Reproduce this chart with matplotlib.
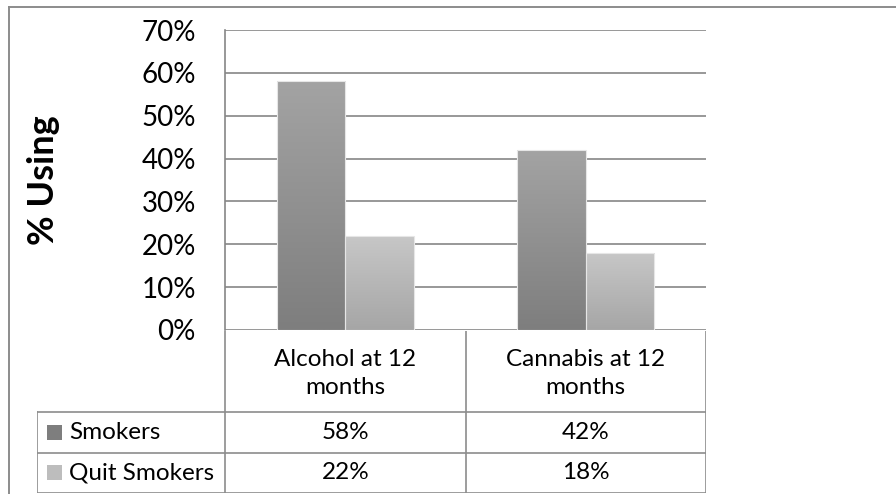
import numpy as np
import matplotlib.pyplot as plt
from matplotlib.colors import LinearSegmentedColormap

categories = ['Alcohol at 12\nmonths', 'Cannabis at 12\nmonths']
series = ['Smokers', 'Quit Smokers']
smokers = [58, 42]
quit_smokers = [22, 18]
yticks = [0, 10, 20, 30, 40, 50, 60, 70]

plt.rcParams['font.family'] = ['Lato', 'DejaVu Sans']

W, H = 896, 494
fig = plt.figure(figsize=(W / 100, H / 100), dpi=100)


def px_axes(x0, y0, x1, y1):
    # pixel box (top-left origin) -> figure axes
    return fig.add_axes([x0 / W, 1 - y1 / H, (x1 - x0) / W, (y1 - y0) / H])


# outer chart border (top and left only visible)
border = fig.add_axes([0, 0, 1, 1])
border.set_xlim(0, W)
border.set_ylim(H, 0)
border.axis('off')
border.plot([9, W], [7, 7], color='#8c8c8c', lw=1.4)
border.plot([9, 9], [7, H], color='#8c8c8c', lw=1.4)

# main plot
ax = px_axes(225, 30, 706, 330)
grid_c = '#868686'
x = np.arange(len(categories))
bw = 1 / 3.5
shades = [('#a3a3a3', '#7e7e7e'), ('#c7c7c7', '#a6a6a6')]
for i, vals in enumerate([smokers, quit_smokers]):
    bars = ax.bar(x + (i - 0.5) * bw, vals, width=bw, facecolor='none',
                  edgecolor='#e6e6e6', lw=0.8, zorder=3)
    cmap = LinearSegmentedColormap.from_list('g', [shades[i][1], shades[i][0]])
    for b in bars:
        x0, w, h = b.get_x(), b.get_width(), b.get_height()
        im = ax.imshow(np.linspace(0, 1, 100).reshape(-1, 1), cmap=cmap,
                       extent=(x0, x0 + w, 0, h), origin='lower',
                       aspect='auto', zorder=2)
        im.set_clip_path(b)

ax.set_xlim(-0.5, len(categories) - 0.5)
ax.set_ylim(0, 70)
ax.set_yticks(yticks)
ax.set_yticklabels([f'{t}%' for t in yticks], fontsize=20)
ax.tick_params(axis='y', length=0, pad=21)
ax.set_xticks([])
ax.yaxis.grid(True, color=grid_c, lw=1.2)
ax.set_axisbelow(True)
for s in ['top', 'right', 'bottom']:
    ax.spines[s].set_visible(False)
ax.spines['left'].set_color(grid_c)
ax.spines['left'].set_linewidth(1.2)

fig.text(43 / W, 1 - 180 / H, '% Using', rotation=90, ha='center',
         va='center', fontsize=26, fontweight='bold')

# data table below the plot
hdr_w = 188 / 240.5
tab = px_axes(37, 331, 706, 493)
tab.set_xlim(-0.5 - hdr_w, len(categories) - 0.5)
tab.set_ylim(4, 0)
tab.axis('off')
lc = '#8c8c8c'
lw = 1.2
n = len(categories)
tab.plot([-0.5 - hdr_w, n - 0.5], [2, 2], color=lc, lw=lw)
tab.plot([-0.5 - hdr_w, n - 0.5], [3, 3], color=lc, lw=lw)
tab.plot([-0.5 - hdr_w, n - 0.5], [4, 4], color=lc, lw=lw)
tab.plot([-0.5 - hdr_w] * 2, [2, 4], color=lc, lw=lw)
for k in range(n + 1):
    tab.plot([k - 0.5] * 2, [0, 4], color=lc, lw=lw)

for j, cat in enumerate(categories):
    tab.text(j, 1.05, cat, ha='center', va='center', fontsize=17.5,
             linespacing=1.45)
for i, (name, vals) in enumerate(zip(series, [smokers, quit_smokers])):
    yy = 2.5 + i
    tab.add_patch(plt.Rectangle((-0.5 - hdr_w + 0.042, yy - 0.19), 0.063, 0.38,
                                facecolor=shades[i][1] if i == 0 else '#bdbdbd',
                                edgecolor='none'))
    tab.text(-0.5 - hdr_w + 0.135, yy, name, ha='left', va='center',
             fontsize=17.5)
    for j, v in enumerate(vals):
        tab.text(j, yy, f'{v}%', ha='center', va='center', fontsize=17.5)

fig.savefig('out.png', dpi=100)
